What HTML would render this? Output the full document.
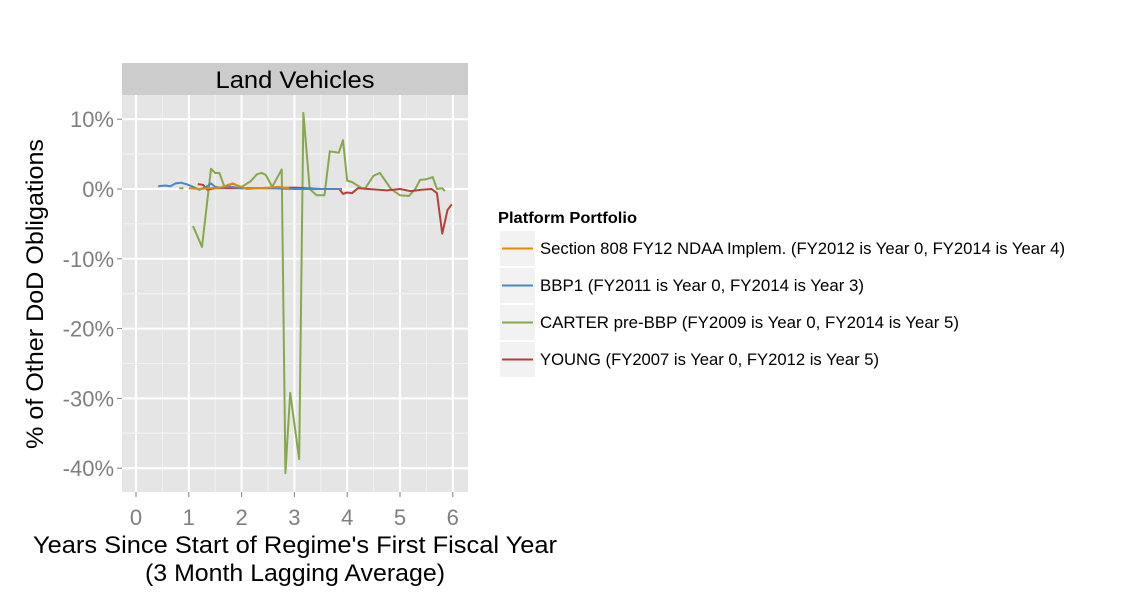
<!DOCTYPE html>
<html><head><meta charset="utf-8"><style>
body{margin:0;background:#fff;}
svg text{font-family:"Liberation Sans",Arial,sans-serif;}
</style></head><body>
<svg id="chart" width="1125" height="600" xmlns="http://www.w3.org/2000/svg">
<rect x="0" y="0" width="1125" height="600" fill="#fff"/>
<rect x="122" y="63" width="346" height="32" fill="#cccccc"/>
<text x="295" y="88" font-size="24" text-anchor="middle" textLength="159" lengthAdjust="spacingAndGlyphs" fill="#000">Land Vehicles</text>
<rect x="122" y="95" width="346" height="397" fill="#e5e5e5"/>
<g id="grid"></g>
<g id="series"></g>
<g id="axes"></g>
<text transform="translate(43,294) rotate(-90)" font-size="24" text-anchor="middle" textLength="310" lengthAdjust="spacingAndGlyphs" fill="#000">% of Other DoD Obligations</text>
<text x="295" y="553" font-size="24" text-anchor="middle" textLength="524" lengthAdjust="spacingAndGlyphs" fill="#000">Years Since Start of Regime's First Fiscal Year</text>
<text x="295" y="581" font-size="24" text-anchor="middle" textLength="300" lengthAdjust="spacingAndGlyphs" fill="#000">(3 Month Lagging Average)</text>
<g id="legend">
<text x="498" y="223" font-size="16" font-weight="bold" textLength="139" lengthAdjust="spacingAndGlyphs" fill="#000">Platform Portfolio</text>
</g>
</svg>
<script>
const xTicks=[0,1,2,3,4,5,6];
const yTicks=[10,0,-10,-20,-30,-40];
const yTickLabels=["10%","0%","-10%","-20%","-30%","-40%"];
const seriesNames=["Section 808 FY12 NDAA Implem. (FY2012 is Year 0, FY2014 is Year 4)","BBP1 (FY2011 is Year 0, FY2014 is Year 3)","CARTER pre-BBP (FY2009 is Year 0, FY2014 is Year 5)","YOUNG (FY2007 is Year 0, FY2012 is Year 5)"];
const seriesColors=["#e08a0b","#4a86c8","#86a84b","#b5403b"];
const orangeX=[1.0,1.2,1.4,1.6,1.75,1.83,1.95,2.1,2.3,2.5,2.7,2.9];
const orangeY=[0.1,0.0,0.1,0.2,0.6,0.8,0.4,0.0,0.1,0.2,0.3,0.1];
const blueX=[0.42,0.55,0.65,0.75,0.85,0.95,1.05,1.2,1.33,1.42,1.5,1.6,1.8,2.0,2.5,3.0,3.5,3.9];
const blueY=[0.4,0.5,0.4,0.8,0.9,0.7,0.4,-0.1,0.3,0.8,0.3,0.2,0.3,0.1,0.1,0.0,0.0,0.0];
const greenX=[1.08,1.25,1.42,1.5,1.58,1.67,1.75,1.83,1.92,2.0,2.17,2.29,2.38,2.46,2.58,2.76,2.83,2.92,3.09,3.17,3.29,3.42,3.57,3.67,3.84,3.92,4.0,4.09,4.28,4.34,4.5,4.62,4.83,5.0,5.17,5.29,5.38,5.5,5.62,5.7,5.8,5.85];
const greenY=[-5.3,-8.3,2.9,2.3,2.3,0.4,0.5,0.8,0.5,0.3,1.1,2.1,2.3,2.0,0.3,2.8,-40.7,-29.2,-38.7,10.9,0.0,-0.9,-0.9,5.4,5.2,7.0,1.2,1.0,0.1,0.1,1.9,2.3,0.0,-0.9,-1.0,0.0,1.3,1.4,1.7,0.0,0.1,-0.3];
const redX=[1.17,1.27,1.35,1.5,2.0,2.5,3.0,3.5,3.85,3.92,4.0,4.09,4.2,4.4,4.6,4.75,5.0,5.2,5.4,5.6,5.7,5.8,5.9,5.98];
const redY=[0.7,0.6,-0.1,0.1,0.1,0.1,0.2,0.0,0.0,-0.7,-0.5,-0.6,0.1,0.0,-0.1,-0.2,0.0,-0.3,-0.1,0.0,-0.6,-6.4,-3.0,-2.2];
const greenDashX=[0.82,0.9];
const greenDashY=[0.1,0.1];

const NS="http://www.w3.org/2000/svg";
const X=v=>136+v*52.8;
const Y=v=>189-v*6.98;
const L=122,R=468,T=95,B=492;
function mk(tag,attrs,parent){const e=document.createElementNS(NS,tag);for(const k in attrs)e.setAttribute(k,attrs[k]);parent.appendChild(e);return e;}
const grid=document.getElementById('grid');
for(let i=0;i<xTicks.length;i++){
  const v=xTicks[i];
  if(i<xTicks.length-1){const m=mk('line',{x1:X(v+0.5),x2:X(v+0.5),y1:T,y2:B,stroke:'#f2f2f2','stroke-width':1},grid);
  }
  const g=mk('line',{x1:X(v),x2:X(v),y1:T,y2:B,stroke:'#fff','stroke-width':2},grid);
  
}
for(let i=0;i<yTicks.length;i++){
  const v=yTicks[i];
  [v+5,v-5].forEach(m=>{if(Y(m)>T&&Y(m)<B){const e=mk('line',{x1:L,x2:R,y1:Y(m),y2:Y(m),stroke:'#f2f2f2','stroke-width':1},grid);
  }});
  const g=mk('line',{x1:L,x2:R,y1:Y(v),y2:Y(v),stroke:'#fff','stroke-width':2},grid);
  
}
const axes=document.getElementById('axes');
xTicks.forEach(v=>{
  const t=mk('line',{x1:X(v),x2:X(v),y1:B,y2:B+5,stroke:'#7f7f7f','stroke-width':1},axes);
  
  const l=mk('text',{x:X(v),y:B+33,'font-size':22,'text-anchor':'middle',fill:'#7f7f7f'},axes);
  l.textContent=v;
});
yTicks.forEach((v,i)=>{
  const t=mk('line',{x1:L-5,x2:L,y1:Y(v),y2:Y(v),stroke:'#7f7f7f','stroke-width':1},axes);
  
  const l=mk('text',{x:L-8,y:Y(v)+8,'font-size':22,'text-anchor':'end',fill:'#7f7f7f'},axes);
  l.textContent=yTickLabels[i];
});
const sg=document.getElementById('series');
function line(xs,ys,color,name){
  const p=mk('polyline',{points:xs.map((x,i)=>X(x)+','+Y(ys[i])).join(' '),fill:'none',stroke:color,'stroke-width':2,'stroke-linejoin':'round'},sg);
  
}
line(greenX,greenY,seriesColors[2],'carter-line');
line(greenDashX,greenDashY,seriesColors[2],'carter-fragment');
line(redX,redY,seriesColors[3],'young-line');
line(blueX,blueY,seriesColors[1],'bbp1-line');
line(orangeX,orangeY,seriesColors[0],'section808-line');
const lg=document.getElementById('legend');
const legendLens=[525,324,419,339];
seriesNames.forEach((n,i)=>{
  const y0=231+i*37;
  const k=mk('rect',{x:500,y:y0,width:35,height:35,fill:'#f2f2f2'},lg);
  
  const s=mk('line',{x1:502,x2:533,y1:y0+17.5,y2:y0+17.5,stroke:seriesColors[i],'stroke-width':2},lg);
  
  const t=mk('text',{x:540,y:y0+23,'font-size':16.5,fill:'#000',textLength:legendLens[i],lengthAdjust:'spacingAndGlyphs'},lg);
  t.textContent=n;
});
</script>
</body></html>
